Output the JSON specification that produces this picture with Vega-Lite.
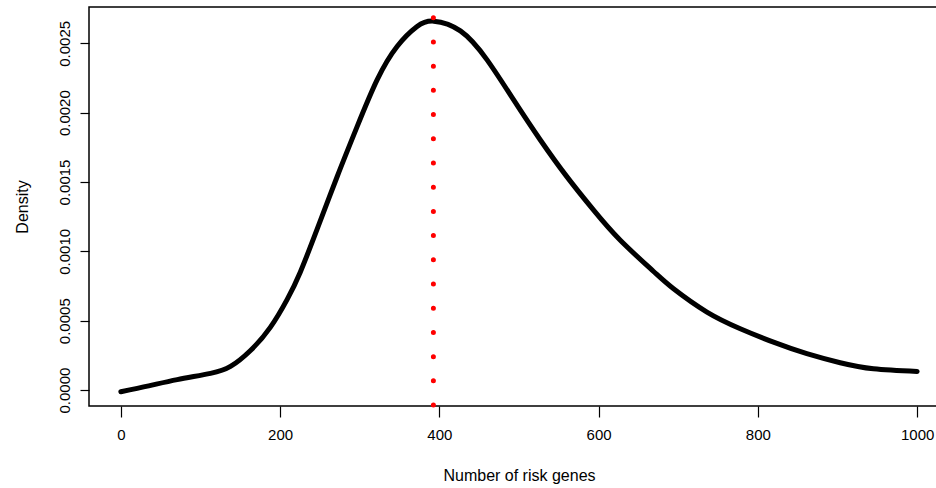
{
  "$schema": "https://vega.github.io/schema/vega-lite/v6.json",
  "autosize": {"type": "none"},
  "padding": {"left": 89, "top": 7, "right": 0, "bottom": 82},
  "width": 860,
  "height": 399,
  "background": "white",
  "config": {
    "view": {"stroke": "black", "strokeWidth": 1.5},
    "font": "Liberation Sans",
    "axis": {
      "grid": false,
      "domain": false,
      "tickColor": "black",
      "tickWidth": 1.2,
      "labelColor": "black",
      "labelFont": "Liberation Sans",
      "labelFontSize": 15,
      "titleFont": "Liberation Sans",
      "titleFontSize": 16,
      "titleFontWeight": "normal",
      "titleColor": "black"
    }
  },
  "datasets": {
    "dens": [
      {"genes": 0, "density": -0.000012},
      {"genes": 35, "density": 0.000030},
      {"genes": 70.8, "density": 0.000075},
      {"genes": 112.6, "density": 0.000120},
      {"genes": 137.7, "density": 0.000170},
      {"genes": 162.8, "density": 0.000285},
      {"genes": 187.9, "density": 0.000454},
      {"genes": 208.9, "density": 0.000654},
      {"genes": 225.3, "density": 0.000850},
      {"genes": 246.5, "density": 0.001160},
      {"genes": 271.6, "density": 0.001538},
      {"genes": 296.7, "density": 0.001899},
      {"genes": 321.8, "density": 0.002236},
      {"genes": 346.9, "density": 0.002477},
      {"genes": 372, "density": 0.002621},
      {"genes": 392.9, "density": 0.002660},
      {"genes": 426.4, "density": 0.002590},
      {"genes": 459.9, "density": 0.002381},
      {"genes": 493.3, "density": 0.002092},
      {"genes": 526.8, "density": 0.001803},
      {"genes": 560.3, "density": 0.001537},
      {"genes": 593.7, "density": 0.001297},
      {"genes": 627.2, "density": 0.001080},
      {"genes": 669, "density": 0.000855},
      {"genes": 694.1, "density": 0.000730},
      {"genes": 736, "density": 0.000562},
      {"genes": 777.9, "density": 0.000442},
      {"genes": 819.6, "density": 0.000345},
      {"genes": 861.5, "density": 0.000262},
      {"genes": 903.4, "density": 0.000197},
      {"genes": 945.2, "density": 0.000153},
      {"genes": 1000, "density": 0.000134}
    ],
    "mode": [{"genes": 392.5}]
  },
  "layer": [
    {
      "data": {"name": "dens"},
      "mark": {"type": "line", "color": "black", "strokeWidth": 5, "strokeCap": "round", "strokeJoin": "round", "interpolate": "natural"},
      "encoding": {
        "x": {
          "field": "genes", "type": "quantitative",
          "scale": {"domain": [-40, 1040], "nice": false, "zero": false},
          "axis": {"title": "Number of risk genes", "values": [0, 200, 400, 600, 800, 1000], "format": "d", "tickSize": 11, "labelPadding": 10, "titlePadding": 25, "labelFlush": false}
        },
        "y": {
          "field": "density", "type": "quantitative",
          "scale": {"domain": [-0.000115, 0.002762], "nice": false, "zero": false},
          "axis": {"title": "Density", "values": [0, 0.0005, 0.001, 0.0015, 0.002, 0.0025], "format": ".4f", "tickSize": 9, "labelAngle": -90, "labelAlign": "center", "labelBaseline": "bottom", "labelPadding": 8, "titlePadding": 27, "labelFlush": false}
        }
      }
    },
    {
      "data": {"name": "mode"},
      "mark": {"type": "rule", "color": "red", "strokeWidth": 5, "strokeCap": "round", "strokeDash": [0.01, 24.2], "strokeDashOffset": 13.5},
      "encoding": {
        "x": {"field": "genes", "type": "quantitative"}
      }
    }
  ]
}
